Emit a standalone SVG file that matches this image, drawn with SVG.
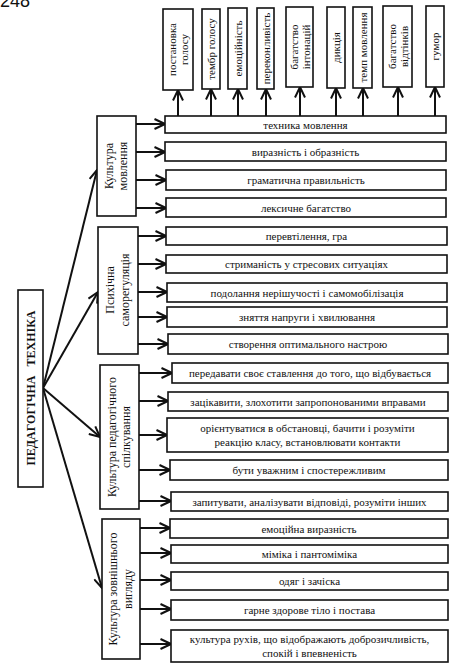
<svg xmlns="http://www.w3.org/2000/svg" width="458" height="668" viewBox="0 0 458 668">
<style>
.b{fill:#fff;stroke:#111;stroke-width:1.6}
.t{font-family:"Liberation Serif","Times New Roman",serif;font-size:11px;fill:#111;text-anchor:middle}
.c{font-family:"Liberation Serif","Times New Roman",serif;font-size:12px;fill:#111;text-anchor:middle}
.m{font-family:"Liberation Serif","Times New Roman",serif;font-size:12px;font-weight:bold;fill:#111;text-anchor:middle}
.l{stroke:#111;stroke-width:2;fill:none}
</style>
<defs>
<marker id="a" viewBox="0 0 12 12" refX="11.5" refY="6" markerWidth="12" markerHeight="12" markerUnits="userSpaceOnUse" orient="auto">
<path d="M1,1 L11.5,6 L1,11" fill="none" stroke="#111" stroke-width="2"/>
</marker>
</defs>
<rect width="458" height="668" fill="#fff"/>
<text x="0" y="7" font-family="Liberation Sans, Arial, sans-serif" font-size="18" fill="#111">248</text>

<g id="connectors" class="l" marker-end="url(#a)">
<line x1="43" y1="388" x2="97" y2="170"/>
<line x1="43" y1="388" x2="98" y2="292"/>
<line x1="43" y1="388" x2="100" y2="437"/>
<line x1="43" y1="388" x2="102" y2="588"/>
<line x1="136" y1="124" x2="165" y2="124"/>
<line x1="136" y1="152" x2="165" y2="152"/>
<line x1="136" y1="180" x2="166" y2="180"/>
<line x1="136" y1="208" x2="166" y2="208"/>
<line x1="138" y1="236" x2="166" y2="236"/>
<line x1="138" y1="264" x2="166" y2="264"/>
<line x1="138" y1="292" x2="167" y2="292"/>
<line x1="138" y1="317" x2="167" y2="317"/>
<line x1="138" y1="344" x2="168" y2="344"/>
<line x1="139" y1="373" x2="172" y2="373"/>
<line x1="139" y1="401" x2="168" y2="401"/>
<line x1="139" y1="435" x2="167" y2="435"/>
<line x1="139" y1="470" x2="170" y2="470"/>
<line x1="139" y1="501" x2="171" y2="501"/>
<line x1="140" y1="528" x2="170" y2="528"/>
<line x1="140" y1="553" x2="171" y2="553"/>
<line x1="140" y1="580" x2="171" y2="580"/>
<line x1="140" y1="609" x2="171" y2="609"/>
<line x1="140" y1="644" x2="171" y2="644"/>
<line x1="178" y1="116" x2="178" y2="90"/>
<line x1="211" y1="116" x2="211" y2="89"/>
<line x1="238" y1="116" x2="238" y2="89"/>
<line x1="266" y1="116" x2="266" y2="89"/>
<line x1="300" y1="116" x2="300" y2="87"/>
<line x1="336" y1="116" x2="336" y2="88"/>
<line x1="363" y1="116" x2="363" y2="88"/>
<line x1="398" y1="116" x2="398" y2="87"/>
<line x1="435" y1="116" x2="435" y2="87"/>
</g>

<g id="main">
<rect class="b" x="18" y="290" width="25" height="197"/>
<text class="m" transform="translate(30.5,388) rotate(-90)" x="0" y="4.5" xml:space="preserve">ПЕДАГОГІЧНА   ТЕХНІКА</text>
</g>

<g id="cat1">
<rect class="b" x="97" y="116" width="39" height="100"/>
<text class="c" transform="translate(116.5,166) rotate(-90)"><tspan x="0" y="-4">Культура</tspan><tspan x="0" y="10.5">мовлення</tspan></text>
</g>
<g id="cat2">
<rect class="b" x="98" y="227" width="40" height="127"/>
<text class="c" transform="translate(118,290) rotate(-90)"><tspan x="0" y="-4">Психічна</tspan><tspan x="0" y="10.5">саморегуляція</tspan></text>
</g>
<g id="cat3">
<rect class="b" x="100" y="365" width="39" height="144"/>
<text class="c" transform="translate(119.5,437) rotate(-90)"><tspan x="0" y="-4">Культура педагогічного</tspan><tspan x="0" y="10.5">спілкування</tspan></text>
</g>
<g id="cat4">
<rect class="b" x="102" y="519" width="38" height="140"/>
<text class="c" transform="translate(121,589) rotate(-90)"><tspan x="0" y="-4">Культура зовнішнього</tspan><tspan x="0" y="10.5">вигляду</tspan></text>
</g>

<g id="v1"><rect class="b" x="163" y="9" width="30" height="81"/>
<text class="t" transform="translate(178,49.5) rotate(-90)"><tspan x="0" y="-2">постановка</tspan><tspan x="0" y="10">голосу</tspan></text></g>
<g id="v2"><rect class="b" x="202" y="9" width="18" height="80"/>
<text class="t" transform="translate(211,49) rotate(-90)" x="0" y="4">тембр голосу</text></g>
<g id="v3"><rect class="b" x="228" y="8" width="19" height="81"/>
<text class="t" transform="translate(237.5,48.5) rotate(-90)" x="0" y="4">емоційність</text></g>
<g id="v4"><rect class="b" x="257" y="8" width="17" height="81"/>
<text class="t" transform="translate(265.5,48.5) rotate(-90)" x="0" y="4">переконливість</text></g>
<g id="v5"><rect class="b" x="286" y="7" width="27" height="80"/>
<text class="t" transform="translate(299.5,47) rotate(-90)"><tspan x="0" y="-2">багатство</tspan><tspan x="0" y="10">інтонацій</tspan></text></g>
<g id="v6"><rect class="b" x="327" y="7" width="18" height="81"/>
<text class="t" transform="translate(336,47.5) rotate(-90)" x="0" y="4">дикція</text></g>
<g id="v7"><rect class="b" x="353" y="7" width="19" height="81"/>
<text class="t" transform="translate(362.5,47.5) rotate(-90)" x="0" y="4">темп мовлення</text></g>
<g id="v8"><rect class="b" x="383" y="6" width="29" height="81"/>
<text class="t" transform="translate(397.5,46.5) rotate(-90)"><tspan x="0" y="-2">багатство</tspan><tspan x="0" y="10">відтінків</tspan></text></g>
<g id="v9"><rect class="b" x="426" y="6" width="18" height="81"/>
<text class="t" transform="translate(435,46.5) rotate(-90)" x="0" y="4">гумор</text></g>

<g id="i1"><rect class="b" x="165" y="116" width="281" height="17"/><text class="t" x="305.5" y="128.5">техника мовлення</text></g>
<g id="i2"><rect class="b" x="165" y="142" width="281" height="19"/><text class="t" x="305.5" y="155.5">виразність і образність</text></g>
<g id="i3"><rect class="b" x="166" y="170" width="280" height="20"/><text class="t" x="306" y="184">граматична правильність</text></g>
<g id="i4"><rect class="b" x="166" y="198" width="280" height="19"/><text class="t" x="306" y="211.5">лексичне багатство</text></g>
<g id="i5"><rect class="b" x="166" y="227" width="281" height="18"/><text class="t" x="306.5" y="240">перевтілення, гра</text></g>
<g id="i6"><rect class="b" x="166" y="255" width="281" height="18"/><text class="t" x="306.5" y="268">стриманість у стресових ситуаціях</text></g>
<g id="i7"><rect class="b" x="167" y="283" width="280" height="19"/><text class="t" x="307" y="296.5">подолання нерішучості і самомобілізація</text></g>
<g id="i8"><rect class="b" x="167" y="307" width="280" height="20"/><text class="t" x="307" y="321">зняття напруги і хвилювання</text></g>
<g id="i9"><rect class="b" x="168" y="334" width="280" height="20"/><text class="t" x="308" y="348">створення оптимального настрою</text></g>
<g id="i10"><rect class="b" x="172" y="363" width="276" height="20"/><text class="t" x="310" y="377">передавати своє ставлення до того, що відбувається</text></g>
<g id="i11"><rect class="b" x="168" y="392" width="280" height="19"/><text class="t" x="308" y="405.5">зацікавити, злохотити запропонованими вправами</text></g>
<g id="i12"><rect class="b" x="167" y="418" width="281" height="34"/><text class="t"><tspan x="307.5" y="432">орієнтуватися в обстановці, бачити і розуміти</tspan><tspan x="307.5" y="446">реакцію класу, встановлювати контакти</tspan></text></g>
<g id="i13"><rect class="b" x="170" y="460" width="278" height="20"/><text class="t" x="309" y="474">бути уважним і спостережливим</text></g>
<g id="i14"><rect class="b" x="171" y="492" width="277" height="19"/><text class="t" x="309.5" y="505.5">запитувати, аналізувати відповіді, розуміти інших</text></g>
<g id="i15"><rect class="b" x="170" y="519" width="278" height="19"/><text class="t" x="309" y="532.5">емоційна виразність</text></g>
<g id="i16"><rect class="b" x="171" y="545" width="277" height="18"/><text class="t" x="309.5" y="558">міміка і пантоміміка</text></g>
<g id="i17"><rect class="b" x="171" y="572" width="277" height="18"/><text class="t" x="309.5" y="585">одяг і зачіска</text></g>
<g id="i18"><rect class="b" x="171" y="600" width="277" height="20"/><text class="t" x="309.5" y="614">гарне здорове тіло і постава</text></g>
<g id="i19"><rect class="b" x="171" y="630" width="277" height="32"/><text class="t"><tspan x="309.5" y="643">культура рухів, що відображають доброзичливість,</tspan><tspan x="309.5" y="657">спокій і впевненість</tspan></text></g>
</svg>
